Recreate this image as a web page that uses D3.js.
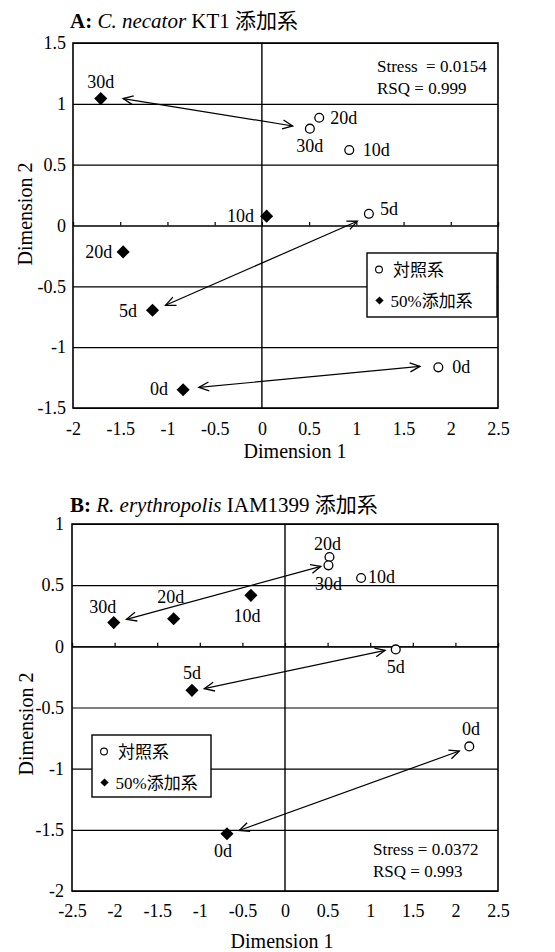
<!DOCTYPE html>
<html><head><meta charset="utf-8">
<script src="https://cdn.jsdelivr.net/npm/d3@7"></script>
<style>
html,body{margin:0;padding:0;background:#fff;}
svg text{font-family:"Liberation Serif","Times New Roman","Noto Sans CJK JP",serif;fill:#000;white-space:pre;}
</style></head>
<body><svg id="c" width="555" height="952"></svg>
<script>
// ---------- DATA ----------
const days = ["0d", "5d", "10d", "20d", "30d"];

// Panel A: C. necator KT1
const aControlX = [1.868, 1.133, 0.925, 0.607, 0.508];
const aControlY = [-1.166, 0.096, 0.620, 0.886, 0.796];
const aTreatX   = [-0.834, -1.158, 0.050, -1.469, -1.706];
const aTreatY   = [-1.350, -0.697, 0.077, -0.217, 1.043];
// arrows: [x1, y1, x2, y2]
const aArrows = [[-1.469, 1.043, 0.326, 0.818], [-1.02, -0.656, 1.01, 0.035], [-0.667, -1.331, 1.674, -1.158]];
const aXTicks = [-2, -1.5, -1, -0.5, 0, 0.5, 1, 1.5, 2, 2.5];
const aYTicks = [-1.5, -1, -0.5, 0, 0.5, 1, 1.5];
const aStats = ["Stress  = 0.0154", "RSQ = 0.999"];

// Panel B: R. erythropolis IAM1399
const bControlX = [2.163, 1.300, 0.893, 0.522, 0.510];
const bControlY = [-0.818, -0.025, 0.559, 0.730, 0.662];
const bTreatX   = [-0.681, -1.092, -0.400, -1.307, -2.010];
const bTreatY   = [-1.532, -0.360, 0.417, 0.226, 0.194];
const bArrows = [[-1.86, 0.221, 0.421, 0.654], [-0.947, -0.346, 1.175, -0.033], [-0.537, -1.505, 2.046, -0.856]];
const bXTicks = [-2.5, -2, -1.5, -1, -0.5, 0, 0.5, 1, 1.5, 2, 2.5];
const bYTicks = [-2, -1.5, -1, -0.5, 0, 0.5, 1];
const bStats = ["Stress = 0.0372", "RSQ = 0.993"];

const legendLabels = ["対照系", "50%添加系"];

// ---------- LAYOUT ----------
const svg = d3.select("#c");
svg.append("rect").attr("width", 555).attr("height", 952).attr("fill", "#fff");

const defs = svg.append("defs");
defs.append("marker").attr("id", "ah")
  .attr("viewBox", "-12 -7 14 14").attr("refX", 0).attr("refY", 0)
  .attr("markerWidth", 14).attr("markerHeight", 14)
  .attr("markerUnits", "userSpaceOnUse").attr("orient", "auto-start-reverse")
  .append("path").attr("d", "M-10,-4.5 L0,0 L-10,4.5")
  .attr("fill", "none").attr("stroke", "#000").attr("stroke-width", 1.3);

const fmt = d => String(d);

function drawPanel(p) {
  const x = d3.scaleLinear().domain(p.xDomain).range([p.left, p.right]);
  const y = d3.scaleLinear().domain(p.yDomain).range([p.bottom, p.top]);
  const g = svg.append("g");

  // horizontal gridlines
  g.append("g").attr("transform", `translate(${p.left},0)`)
    .call(d3.axisLeft(y).tickValues(p.yTicks).tickSize(-(p.right - p.left)).tickFormat(""))
    .call(s => s.select(".domain").remove())
    .call(s => s.selectAll("line").attr("stroke", "#000").attr("stroke-width", 1.1));

  // y tick labels
  g.append("g").attr("transform", `translate(${p.left},0)`)
    .call(d3.axisLeft(y).tickValues(p.yTicks).tickSize(0).tickPadding(p.yPad).tickFormat(fmt))
    .attr("font-family", null).attr("font-size", null)
    .call(s => s.select(".domain").remove())
    .call(s => s.selectAll("text").attr("font-size", 18));

  // x tick labels at bottom
  g.append("g").attr("transform", `translate(0,${p.bottom})`)
    .call(d3.axisBottom(x).tickValues(p.xTicks).tickSize(0).tickFormat(fmt))
    .attr("font-family", null).attr("font-size", null)
    .call(s => s.select(".domain").remove())
    .call(s => s.selectAll("text").attr("font-size", 18)
      .attr("y", p.xLabOff).attr("dy", null));

  // vertical axis at x = 0
  g.append("line").attr("x1", x(0)).attr("x2", x(0)).attr("y1", p.top).attr("y2", p.bottom)
    .attr("stroke", "#000").attr("stroke-width", 1.4);

  // x tick marks along y = 0
  g.append("g").attr("transform", `translate(0,${y(0)})`)
    .call(d3.axisTop(x).tickValues(p.xTicks).tickSize(3.5).tickFormat(""))
    .call(s => s.select(".domain").attr("stroke", "#000").attr("stroke-width", 1.2))
    .call(s => s.selectAll("line").attr("stroke", "#000").attr("stroke-width", 1.2));

  // frame
  g.append("rect").attr("x", p.left).attr("y", p.top)
    .attr("width", p.right - p.left).attr("height", p.bottom - p.top)
    .attr("fill", "none").attr("stroke", "#000").attr("stroke-width", 1.6);

  // arrows
  g.selectAll(".arr").data(p.arrows).join("line")
    .attr("x1", d => x(d[0])).attr("y1", d => y(d[1]))
    .attr("x2", d => x(d[2])).attr("y2", d => y(d[3]))
    .attr("stroke", "#000").attr("stroke-width", 1.2)
    .attr("marker-start", "url(#ah)").attr("marker-end", "url(#ah)");

  const ctrl = days.map((d, i) => ({ d, x: p.cx[i], y: p.cy[i], i }));
  const trt = days.map((d, i) => ({ d, x: p.tx[i], y: p.ty[i], i }));

  // control: open circles
  g.selectAll(".c").data(ctrl).join("circle")
    .attr("cx", d => x(d.x)).attr("cy", d => y(d.y)).attr("r", 4.4)
    .attr("fill", "#fff").attr("stroke", "#000").attr("stroke-width", 1.3);

  // treated: filled diamonds
  const diamond = d3.symbol().type(d3.symbolSquare).size(86);
  g.selectAll(".t").data(trt).join("path")
    .attr("d", diamond())
    .attr("transform", d => `translate(${x(d.x)},${y(d.y)}) rotate(45)`)
    .attr("fill", "#000");

  // point labels
  const lab = (arr, lay) => g.selectAll(null).data(arr).join("text")
    .attr("x", d => x(d.x) + lay[d.i][0]).attr("y", d => y(d.y) + lay[d.i][1])
    .attr("text-anchor", d => lay[d.i][2]).attr("font-size", 18).text(d => d.d);
  lab(ctrl, p.cLay);
  lab(trt, p.tLay);

  // title
  const t = svg.append("text").attr("x", p.titleX).attr("y", p.titleY).attr("font-size", 21);
  t.append("tspan").attr("font-weight", "bold").text(p.title[0]);
  t.append("tspan").text(" ");
  t.append("tspan").attr("font-style", "italic").text(p.title[1]);
  t.append("tspan").text(p.title[2]);

  // axis titles
  svg.append("text").attr("x", p.x1X).attr("y", p.x1Y).attr("text-anchor", "middle")
    .attr("font-size", 20).text("Dimension 1");
  svg.append("text").attr("transform", `translate(${p.y1X},${p.y1Y}) rotate(-90)`)
    .attr("text-anchor", "middle").attr("font-size", 20).text("Dimension 2");

  // stats
  g.selectAll(".st").data(p.stats).join("text")
    .attr("x", p.statX).attr("y", (d, i) => p.statY + i * 22)
    .attr("font-size", 17).text(d => d);

  // legend
  const L = p.legend;
  const lg = g.append("g");
  lg.append("rect").attr("x", L.x).attr("y", L.y).attr("width", L.w).attr("height", L.h)
    .attr("fill", "#fff").attr("stroke", "#000").attr("stroke-width", 1.4);
  lg.append("circle").attr("cx", L.x + 12).attr("cy", L.y + 16.5).attr("r", 3.4)
    .attr("fill", "#fff").attr("stroke", "#000").attr("stroke-width", 1.1);
  lg.append("path").attr("d", d3.symbol().type(d3.symbolSquare).size(34)())
    .attr("transform", `translate(${L.x + 12.5},${L.y + 47.5}) rotate(45)`).attr("fill", "#000");
  lg.append("text").attr("x", L.x + 26).attr("y", L.y + 22.5).attr("font-size", 17).text(legendLabels[0]);
  lg.append("text").attr("x", L.x + 23.5).attr("y", L.y + 53.5).attr("font-size", 17).text(legendLabels[1]);
}

drawPanel({
  xDomain: [-2, 2.5], yDomain: [-1.5, 1.5],
  left: 73, right: 498, top: 43, bottom: 408,
  xTicks: aXTicks, yTicks: aYTicks, yPad: 7, xLabOff: 27,
  cx: aControlX, cy: aControlY, tx: aTreatX, ty: aTreatY, arrows: aArrows,
  cLay: [[14, 6, "start"], [11, 1, "start"], [13.5, 5.5, "start"], [11, 6, "start"], [0, 23, "middle"]],
  tLay: [[-15, 5, "end"], [-15.5, 7, "end"], [-12.5, 5.5, "end"], [-11, 6, "end"], [0, -11, "middle"]],
  title: ["A:", "C. necator", " KT1 添加系"], titleX: 70, titleY: 28,
  x1X: 295, x1Y: 458, y1X: 32, y1Y: 214,
  stats: aStats, statX: 377, statY: 72,
  legend: { x: 367, y: 253, w: 130, h: 64 }
});

drawPanel({
  xDomain: [-2.5, 2.5], yDomain: [-2, 1],
  left: 72, right: 498, top: 524, bottom: 891,
  xTicks: bXTicks, yTicks: bYTicks, yPad: 8, xLabOff: 25.5,
  cx: bControlX, cy: bControlY, tx: bTreatX, ty: bTreatY, arrows: bArrows,
  cLay: [[1.7, -11, "middle"], [0, 24, "middle"], [7, 5, "start"], [-2, -7.5, "middle"], [0, 25, "middle"]],
  tLay: [[-4, 23, "middle"], [0, -11, "middle"], [-4, 27, "middle"], [-3, -15.5, "middle"], [-11, -10, "middle"]],
  title: ["B:", "R. erythropolis", " IAM1399 添加系"], titleX: 70, titleY: 512,
  x1X: 282, x1Y: 948, y1X: 33, y1Y: 724,
  stats: bStats, statX: 373, statY: 855,
  legend: { x: 92, y: 735, w: 119, h: 62 }
});
</script></body></html>
